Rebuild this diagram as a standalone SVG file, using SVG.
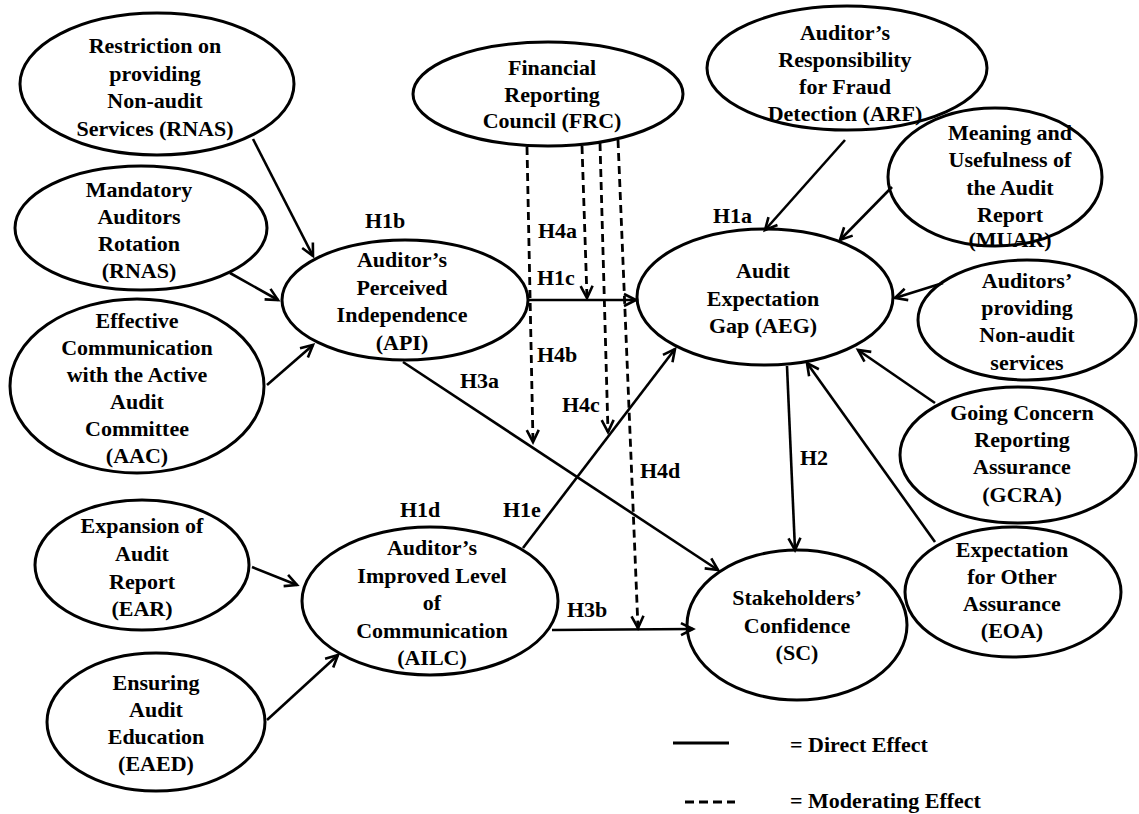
<svg xmlns="http://www.w3.org/2000/svg" width="1139" height="814" viewBox="0 0 1139 814">
<defs>
<marker id="arr" markerUnits="userSpaceOnUse" markerWidth="16" markerHeight="16" refX="13" refY="7" orient="auto" overflow="visible">
<path d="M1,1 L13,7 L1,13" fill="none" stroke="#000" stroke-width="2.6"/>
</marker>
<style>
.n ellipse{fill:none;stroke:#000;stroke-width:3}
text{font-family:"Liberation Serif","Times New Roman",serif;font-weight:bold;font-size:22px;fill:#000}
.n text{text-anchor:middle}
.c line{stroke:#000;stroke-width:2.6;fill:none}
.c line.d{stroke-dasharray:8 5;stroke-width:2.8}
</style>
</defs>
<rect width="1139" height="814" fill="#fff"/>
<g class="c" id="connectors">
<line x1="253" y1="139" x2="313" y2="256" marker-end="url(#arr)"/>
<line x1="230" y1="273" x2="278" y2="300" marker-end="url(#arr)"/>
<line x1="267" y1="385" x2="313" y2="345" marker-end="url(#arr)"/>
<line x1="528" y1="300" x2="636" y2="300" marker-end="url(#arr)"/>
<line x1="403" y1="362" x2="718" y2="570" marker-end="url(#arr)"/>
<line x1="523" y1="548" x2="675" y2="349" marker-end="url(#arr)"/>
<line x1="552" y1="630" x2="693" y2="629" marker-end="url(#arr)"/>
<line x1="787" y1="366" x2="795" y2="550" marker-end="url(#arr)"/>
<line x1="845" y1="140" x2="765" y2="230" marker-end="url(#arr)"/>
<line x1="892" y1="187" x2="840" y2="240" marker-end="url(#arr)"/>
<line x1="943" y1="283" x2="895" y2="298" marker-end="url(#arr)"/>
<line x1="935" y1="403" x2="858" y2="350" marker-end="url(#arr)"/>
<line x1="935" y1="542" x2="807" y2="363" marker-end="url(#arr)"/>
<line x1="252" y1="567" x2="297" y2="585" marker-end="url(#arr)"/>
<line x1="267" y1="720" x2="338" y2="655" marker-end="url(#arr)"/>
<line class="d" x1="527" y1="147" x2="533" y2="442" marker-end="url(#arr)"/>
<line class="d" x1="582" y1="146" x2="587" y2="298" marker-end="url(#arr)"/>
<line class="d" x1="600" y1="143" x2="608" y2="432" marker-end="url(#arr)"/>
<line class="d" x1="618" y1="140" x2="638" y2="628" marker-end="url(#arr)"/>
</g>
<g class="n" id="RNAS"><ellipse cx="157" cy="84" rx="137" ry="71"/>
<text x="155" y="53">Restriction on</text><text x="155" y="81">providing</text><text x="155" y="108">Non-audit</text><text x="155" y="136">Services (RNAS)</text></g>
<g class="n" id="MAR"><ellipse cx="141" cy="228" rx="126" ry="62"/>
<text x="139" y="197">Mandatory</text><text x="139" y="224">Auditors</text><text x="139" y="251">Rotation</text><text x="139" y="278">(RNAS)</text></g>
<g class="n" id="AAC"><ellipse cx="137" cy="386" rx="127" ry="87"/>
<text x="137" y="328">Effective</text><text x="137" y="355">Communication</text><text x="137" y="382">with the Active</text><text x="137" y="409">Audit</text><text x="137" y="436">Committee</text><text x="137" y="463">(AAC)</text></g>
<g class="n" id="EAR"><ellipse cx="142" cy="565" rx="107" ry="65"/>
<text x="142" y="533">Expansion of</text><text x="142" y="561">Audit</text><text x="142" y="589">Report</text><text x="142" y="616">(EAR)</text></g>
<g class="n" id="EAED"><ellipse cx="156" cy="722" rx="109" ry="69"/>
<text x="156" y="690">Ensuring</text><text x="156" y="717">Audit</text><text x="156" y="744">Education</text><text x="156" y="771">(EAED)</text></g>
<g class="n" id="API"><ellipse cx="405" cy="300" rx="123" ry="60"/>
<text x="402" y="267">Auditor’s</text><text x="402" y="295">Perceived</text><text x="402" y="322">Independence</text><text x="402" y="350">(API)</text></g>
<g class="n" id="AILC"><ellipse cx="430" cy="601" rx="128" ry="74"/>
<text x="432" y="555">Auditor’s</text><text x="432" y="583">Improved Level</text><text x="432" y="610">of</text><text x="432" y="638">Communication</text><text x="432" y="665">(AILC)</text></g>
<g class="n" id="FRC"><ellipse cx="548" cy="94" rx="135" ry="52"/>
<text x="552" y="75">Financial</text><text x="552" y="102">Reporting</text><text x="552" y="128">Council (FRC)</text></g>
<g class="n" id="ARF"><ellipse cx="847" cy="68" rx="140" ry="62"/>
<text x="845" y="40">Auditor’s</text><text x="845" y="67">Responsibility</text><text x="845" y="94">for Fraud</text><text x="845" y="121">Detection (ARF)</text></g>
<g class="n" id="MUAR"><ellipse cx="995" cy="177" rx="107" ry="69"/>
<text x="1010" y="140">Meaning and</text><text x="1010" y="167">Usefulness of</text><text x="1010" y="195">the Audit</text><text x="1010" y="222">Report</text><text x="1010" y="247">(MUAR)</text></g>
<g class="n" id="AEG"><ellipse cx="765" cy="297" rx="128" ry="68"/>
<text x="763" y="278">Audit</text><text x="763" y="306">Expectation</text><text x="763" y="333">Gap (AEG)</text></g>
<g class="n" id="ANAS"><ellipse cx="1027" cy="320" rx="109" ry="60"/>
<text x="1027" y="288">Auditors’</text><text x="1027" y="315">providing</text><text x="1027" y="342">Non-audit</text><text x="1027" y="370">services</text></g>
<g class="n" id="GCRA"><ellipse cx="1018" cy="455" rx="118" ry="68"/>
<text x="1022" y="420">Going Concern</text><text x="1022" y="447">Reporting</text><text x="1022" y="474">Assurance</text><text x="1022" y="502">(GCRA)</text></g>
<g class="n" id="EOA"><ellipse cx="1013" cy="592" rx="108" ry="65"/>
<text x="1012" y="557">Expectation</text><text x="1012" y="584">for Other</text><text x="1012" y="611">Assurance</text><text x="1012" y="638">(EOA)</text></g>
<g class="n" id="SC"><ellipse cx="797" cy="625" rx="110" ry="75"/>
<text x="797" y="605">Stakeholders’</text><text x="797" y="633">Confidence</text><text x="797" y="660">(SC)</text></g>
<g id="labels">
<text x="365" y="228">H1b</text><text x="538" y="238">H4a</text><text x="713" y="223">H1a</text>
<text x="537" y="285">H1c</text><text x="537" y="362">H4b</text><text x="460" y="388">H3a</text>
<text x="562" y="412">H4c</text><text x="640" y="478">H4d</text><text x="800" y="465">H2</text>
<text x="400" y="517">H1d</text><text x="503" y="517">H1e</text><text x="567" y="617">H3b</text>
</g>
<g id="legend">
<line x1="673" y1="743" x2="729" y2="743" stroke="#000" stroke-width="3"/>
<line x1="685" y1="802" x2="735" y2="802" stroke="#000" stroke-width="3" stroke-dasharray="9 5"/>
<text x="790" y="752">= Direct Effect</text>
<text x="790" y="808">= Moderating Effect</text>
</g>
</svg>
